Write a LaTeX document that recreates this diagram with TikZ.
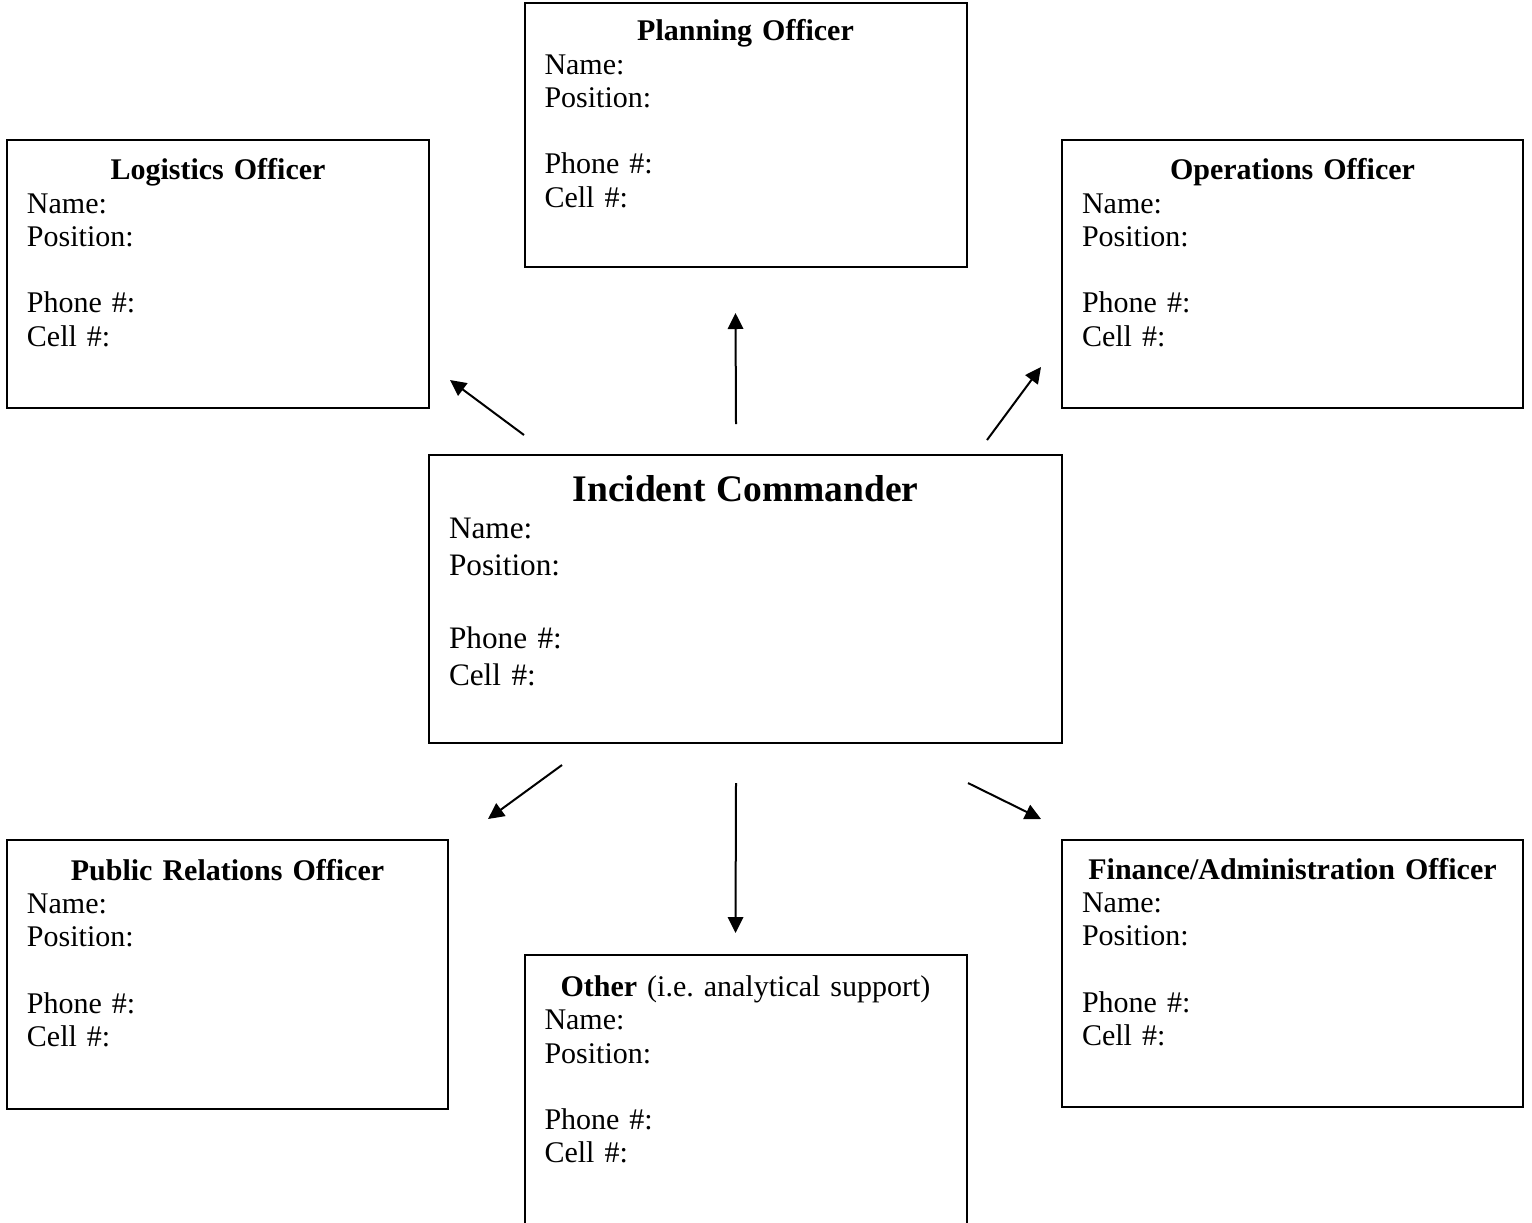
\documentclass[tikz,border=0pt]{standalone}
\usepackage{fontspec}
\setmainfont{Liberation Serif}
\usepackage{tikz}
\usetikzlibrary{arrows.meta}
\frenchspacing

\newcommand{\contact}{Name:\\ Position:\\[\baselineskip] Phone \#:\\ Cell \#:}

\begin{document}
\begin{tikzpicture}[x=0.4pt, y=0.4pt, every node/.style={font=\fontsize{12pt}{13.3pt}\selectfont}]
        % Plain white boxes with a black frame
        \tikzstyle{block} = [rectangle, draw, line width=0.8pt, align=left,
                             inner xsep=8pt, inner ysep=0pt, minimum height=107.2pt]
        \tikzstyle{arrow} = [line width=0.8pt, -{Triangle[length=6.4pt, width=6.2pt]}]

        \useasboundingbox (0,0) rectangle (1532,-1222);

        % Commander in the middle
        \node (ic) [block, text width=237.2pt, minimum height=115.2pt,
                    font=\fontsize{12.5pt}{14.7pt}\selectfont] at (745.5,-599)
              {\makebox[\linewidth]{\fontsize{15pt}{18pt}\selectfont\bfseries Incident Commander}\\ \contact\\ \mbox{}};

        % Officers around it
        \node (planning) [block, above of=ic, node distance=185.6pt, text width=160.8pt, minimum height=105.6pt]
              {\makebox[\linewidth]{\textbf{Planning Officer}}\\ \contact\\ \strut};
        \node (logistics) [block, above of=ic, node distance=130pt, xshift=-211pt, text width=152.8pt]
              {\makebox[\linewidth]{\textbf{Logistics Officer}}\\ \contact\\ \strut};
        \node (operations) [block, above of=ic, node distance=130pt, xshift=218.8pt, text width=168.4pt]
              {\makebox[\linewidth]{\textbf{Operations Officer}}\\ \contact\\ \strut};
        \node (relations) [block, below of=ic, node distance=150.2pt, xshift=-207.2pt, text width=160.4pt, minimum height=107.6pt]
              {\makebox[\linewidth]{\textbf{Public Relations Officer}}\\ \contact\\ \strut};
        \node (other) [block, below of=ic, node distance=196.8pt, text width=160.8pt, minimum height=108.8pt]
              {\makebox[\linewidth]{\textbf{Other} (i.e. analytical support)}\\ \contact\\ \strut};
        \node (finance) [block, below of=ic, node distance=149.8pt, xshift=218.8pt, text width=168.4pt, minimum height=106.8pt]
              {\makebox[\linewidth]{\textbf{Finance/Administration Officer}}\\ \contact\\ \strut};

        % Arrows, loose between the boxes
        \draw [arrow] ([xshift=38.4pt, yshift=7.6pt]ic.north west) -- ([xshift=8pt, yshift=11.6pt]logistics.south east);
        \draw [arrow] ([xshift=-3.8pt, yshift=12pt]ic.north) -- ([xshift=-4pt, yshift=-18pt]planning.south);
        \draw [arrow] ([xshift=-30.4pt, yshift=5.6pt]ic.north east) -- ([xshift=-8pt, yshift=16.8pt]operations.south west);
        \draw [arrow] ([xshift=53.6pt, yshift=-8.4pt]ic.south west) -- ([xshift=15.6pt, yshift=8pt]relations.north east);
        \draw [arrow] ([xshift=-3.8pt, yshift=-15.6pt]ic.south) -- ([xshift=-4pt, yshift=8.4pt]other.north);
        \draw [arrow] ([xshift=-38pt, yshift=-15.6pt]ic.south east) -- ([xshift=-8pt, yshift=8pt]finance.north west);
    \end{tikzpicture}
\end{document}
